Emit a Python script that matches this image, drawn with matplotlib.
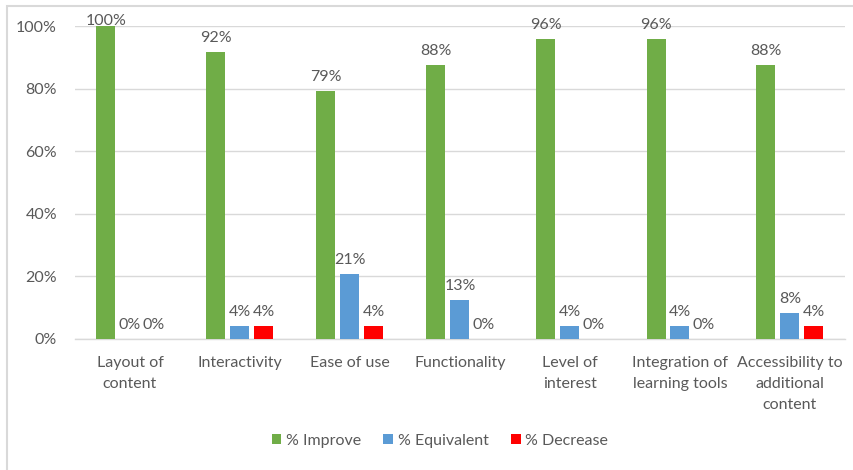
import matplotlib
matplotlib.use("Agg")
import matplotlib.pyplot as plt
import numpy as np
from matplotlib.patches import Rectangle

categories = ["Layout of\ncontent", "Interactivity", "Ease of use", "Functionality",
              "Level of\ninterest", "Integration of\nlearning tools", "Accessibility to\nadditional\ncontent"]
improve = [100, 91.7, 79.2, 87.5, 95.8, 95.8, 87.5]
equivalent = [0, 4.2, 20.8, 12.5, 4.2, 4.2, 8.3]
decrease = [0, 4.2, 4.2, 0, 0, 0, 4.2]
series_names = ["% Improve", "% Equivalent", "% Decrease"]
colors = ["#70AD47", "#5B9BD5", "#FF0000"]
yticks = [0, 20, 40, 60, 80, 100]

text_color = "#595959"
fs = 11.5
plt.rcParams['font.family'] = ['Lato', 'DejaVu Sans']

fig = plt.figure(figsize=(8.54, 4.70), dpi=100)
fig.patches.append(Rectangle((7.5/854, -0.1), 1.2, 1 - 5.5/470 + 0.1, transform=fig.transFigure,
                             fill=False, edgecolor="#D9D9D9", linewidth=1.5, zorder=0))
ax = fig.add_axes([75/854, 1 - 339/470, 770/854, (339 - 26)/470])

x = np.arange(len(categories))
step = 24 / 110
width = 19 / 110
for i, (vals, name, c) in enumerate(zip([improve, equivalent, decrease], series_names, colors)):
    pos = x + (i - 1) * step
    ax.bar(pos, vals, width=width, color=c, label=name, zorder=3)
    for p, v in zip(pos, vals):
        ax.text(p, min(v + 2.2, 99.5), f"{int(v + 0.5)}%", ha="center", va="bottom",
                fontsize=fs, color=text_color, clip_on=False)

ax.set_xlim(-0.5, len(categories) - 0.5)
ax.set_ylim(0, 100)
ax.set_yticks(yticks)
ax.set_yticklabels([f"{t}%" for t in yticks])
ax.set_xticks(x)
ax.set_xticklabels(categories, linespacing=1.65)
ax.tick_params(axis="both", length=0, labelsize=fs, labelcolor=text_color)
ax.tick_params(axis="y", pad=13)
ax.tick_params(axis="x", pad=12)
ax.yaxis.grid(True, color="#D9D9D9", linewidth=1, zorder=0)
ax.set_axisbelow(True)
for s in ["top", "right", "left"]:
    ax.spines[s].set_visible(False)
ax.spines["bottom"].set_color("#D9D9D9")
ax.spines["bottom"].set_linewidth(1)

fig.legend(loc="center", bbox_to_anchor=(440/854, 1 - 441/470), ncol=3, frameon=False,
           fontsize=fs, handlelength=0.6, handleheight=0.6, handletextpad=0.3,
           columnspacing=1.4, labelcolor=text_color)

fig.savefig("out.png", dpi=100)
